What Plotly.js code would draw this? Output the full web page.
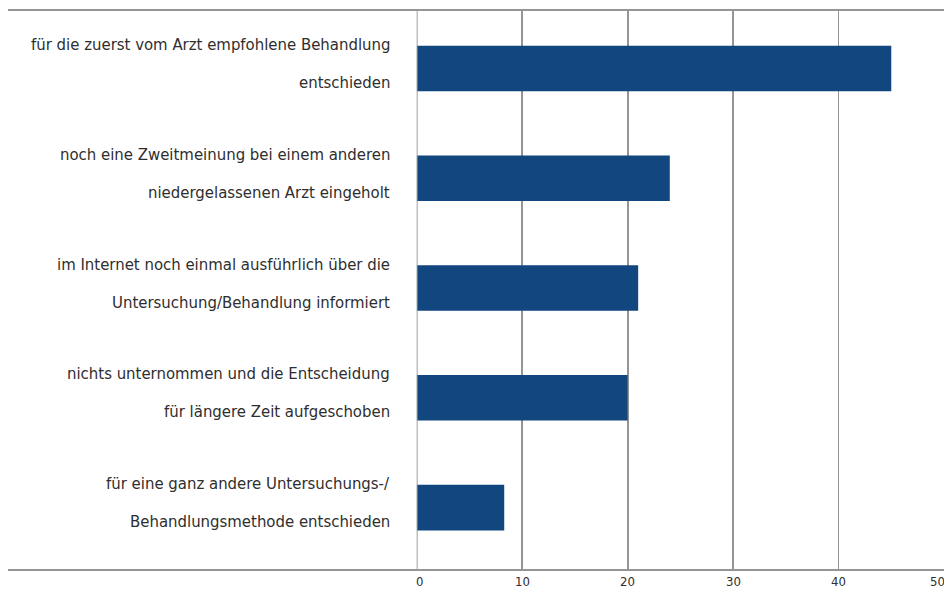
<!DOCTYPE html>
<html>
<head>
<meta charset="utf-8">
<script src="https://cdn.plot.ly/plotly-3.0.1.min.js"></script>
<style>html,body{margin:0;padding:0;background:#fff;}#chart{width:944px;height:589px;}</style>
</head>
<body>
<div id="chart"></div>
<script>
const categories = [
  "für die zuerst vom Arzt empfohlene Behandlung<br>entschieden",
  "noch eine Zweitmeinung bei einem anderen<br>niedergelassenen Arzt eingeholt",
  "im Internet noch einmal ausführlich über die<br>Untersuchung/Behandlung informiert",
  "nichts unternommen und die Entscheidung<br>für längere Zeit aufgeschoben",
  "für eine ganz andere Untersuchungs-/<br>Behandlungsmethode entschieden"
];
const values = [45, 24, 21, 20, 8.3];
const tickValues = [0, 10, 20, 30, 40, 50];
const tickLabels = ["0", "10", "20", "30", "40", "50"];

const labelFont = {family: "DejaVu Sans Condensed, Liberation Sans, Arial, sans-serif", size: 16.6, color: "#2e2e2e"};
const tickFont = {family: "DejaVu Sans Condensed, Liberation Sans, Arial, sans-serif", size: 13, color: "#2e2e2e"};
const lineColor = "#959595";

const annotations = [];
categories.forEach((c, i) => {
  const parts = c.split("<br>");
  const shifts = [24, -14];
  parts.forEach((p, j) => {
    annotations.push({
      xref: "paper", yref: "y", x: 392 / 944, y: c,
      text: p, showarrow: false, xanchor: "right", yanchor: "middle",
      yshift: shifts[j], font: labelFont
    });
  });
});
tickValues.forEach((v, i) => {
  const last = i === tickValues.length - 1;
  const first = i === 0;
  annotations.push({
    xref: "x", yref: "paper", x: v, y: 0,
    text: tickLabels[i], showarrow: false,
    xanchor: first ? "left" : (last ? "right" : "center"),
    xshift: first ? -1 : (last ? 1 : 0),
    yanchor: "bottom", yshift: -18.5,
    borderpad: 0, borderwidth: 0, font: tickFont
  });
});

const trace = {
  type: "bar", orientation: "h",
  x: values, y: categories,
  marker: {color: "#12467E"},
  width: 0.415,
  hoverinfo: "none"
};

const layout = {
  width: 944, height: 589,
  margin: {l: 0, r: 0, t: 10, b: 19, pad: 0},
  paper_bgcolor: "#fff", plot_bgcolor: "#fff",
  showlegend: false,
  xaxis: {
    domain: [416.7 / 944, 1],
    range: [0, 50],
    tickvals: [10, 20, 30, 40],
    showticklabels: false,
    showgrid: true, gridcolor: lineColor, gridwidth: 1.8,
    zeroline: false, showline: false, ticks: "", fixedrange: true
  },
  yaxis: {
    type: "category",
    categoryorder: "array", categoryarray: categories,
    range: [4.568, -0.532],
    showticklabels: false, showgrid: false, zeroline: false, showline: false, ticks: "", fixedrange: true
  },
  shapes: [
    {type: "line", xref: "paper", yref: "paper", x0: 8 / 944, x1: 1, y0: 1, y1: 1, line: {color: lineColor, width: 2}},
    {type: "line", xref: "paper", yref: "paper", x0: 8 / 944, x1: 1, y0: 0, y1: 0, line: {color: lineColor, width: 2}},
    {type: "line", xref: "x", yref: "paper", x0: 0, x1: 0, y0: 0, y1: 1, line: {color: lineColor, width: 1.8}, layer: "above"}
  ],
  annotations: annotations
};

Plotly.newPlot("chart", [trace], layout, {staticPlot: true, displayModeBar: false});
</script>
</body>
</html>
